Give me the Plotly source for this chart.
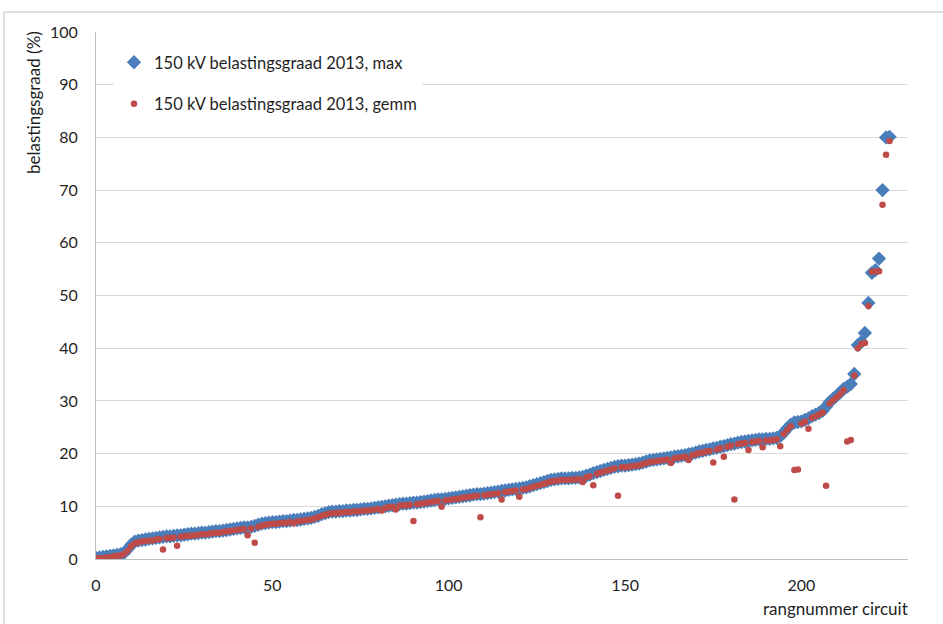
import plotly.graph_objects as go

# Rank number of each 150 kV circuit (sorted by maximum loading)
rank = list(range(0, 226))

# Maximum loading degree 2013 (%)
load_max = [
    0.2, 0.3, 0.4, 0.5, 0.6, 0.7, 0.8, 0.9, 1.2, 1.9,
    2.7, 3.3, 3.5, 3.6, 3.7, 3.8, 3.9, 4.0, 4.1, 4.2,
    4.3, 4.3, 4.4, 4.5, 4.5, 4.6, 4.7, 4.8, 4.8, 4.9,
    5.0, 5.0, 5.1, 5.2, 5.3, 5.3, 5.4, 5.5, 5.6, 5.7,
    5.8, 5.9, 6.0, 6.0, 6.1, 6.3, 6.5, 6.7, 6.8, 6.9,
    7.0, 7.0, 7.1, 7.2, 7.2, 7.3, 7.4, 7.4, 7.5, 7.6,
    7.7, 7.8, 8.0, 8.2, 8.5, 8.7, 8.9, 9.0, 9.0, 9.1,
    9.1, 9.2, 9.2, 9.3, 9.3, 9.4, 9.5, 9.5, 9.6, 9.7,
    9.8, 9.9, 10.0, 10.1, 10.2, 10.3, 10.4, 10.5, 10.5, 10.6,
    10.7, 10.7, 10.8, 10.9, 11.0, 11.1, 11.2, 11.3, 11.3, 11.4,
    11.5, 11.6, 11.7, 11.8, 11.9, 12.0, 12.1, 12.2, 12.3, 12.3,
    12.4, 12.5, 12.6, 12.7, 12.8, 12.9, 13.0, 13.1, 13.2, 13.3,
    13.4, 13.5, 13.6, 13.8, 14.0, 14.2, 14.4, 14.6, 14.8, 15.0,
    15.1, 15.2, 15.3, 15.3, 15.3, 15.4, 15.4, 15.5, 15.6, 15.8,
    16.0, 16.3, 16.5, 16.7, 16.9, 17.1, 17.3, 17.5, 17.6, 17.7,
    17.7, 17.8, 17.9, 18.0, 18.1, 18.3, 18.5, 18.7, 18.8, 18.9,
    19.0, 19.1, 19.2, 19.3, 19.4, 19.5, 19.6, 19.7, 19.9, 20.0,
    20.2, 20.4, 20.5, 20.7, 20.8, 21.0, 21.1, 21.3, 21.4, 21.6,
    21.8, 21.9, 22.1, 22.2, 22.3, 22.4, 22.5, 22.6, 22.7, 22.7,
    22.8, 22.8, 22.9, 23.0, 23.3, 24.0, 24.8, 25.5, 25.9, 26.0,
    26.1, 26.4, 26.7, 27.1, 27.4, 27.7, 28.1, 28.9, 29.8, 30.4,
    31.0, 31.6, 32.3, 32.7, 33.2, 35.1, 40.6, 41.2, 42.9, 48.6,
    54.3, 54.8, 57.0, 70.0, 80.0, 80.1,
]

# Average loading degree 2013 (%)
load_avg = [
    0.1, 0.2, 0.2, 0.3, 0.4, 0.5, 0.6, 0.7, 1.0, 1.6,
    2.4, 3.0, 3.2, 3.3, 3.4, 3.5, 3.5, 3.7, 3.8, 1.8,
    4.0, 4.0, 4.1, 2.5, 4.2, 4.3, 4.4, 4.4, 4.5, 4.6,
    4.7, 4.7, 4.8, 4.9, 5.0, 5.0, 5.1, 5.2, 5.3, 5.4,
    5.5, 5.6, 5.7, 4.5, 5.8, 3.1, 6.1, 6.3, 6.5, 6.6,
    6.7, 6.7, 6.8, 6.9, 6.9, 7.0, 6.8, 7.1, 7.2, 7.3,
    7.4, 7.5, 7.7, 7.9, 8.2, 8.4, 8.6, 8.7, 8.7, 8.8,
    8.8, 8.9, 8.9, 9.0, 9.0, 9.1, 9.2, 9.2, 9.3, 9.4,
    9.5, 9.2, 9.7, 9.8, 9.9, 9.4, 10.1, 10.2, 10.2, 10.3,
    7.2, 10.4, 10.5, 10.6, 10.7, 10.8, 10.9, 11.0, 9.9, 11.1,
    11.2, 11.3, 11.4, 11.5, 11.6, 11.7, 11.8, 11.9, 12.0, 7.9,
    12.1, 12.2, 12.3, 12.4, 12.5, 11.3, 12.7, 12.8, 12.9, 13.0,
    11.8, 13.2, 13.3, 13.5, 13.7, 13.9, 14.1, 14.3, 14.5, 14.7,
    14.8, 14.9, 15.0, 15.0, 15.0, 15.1, 15.1, 15.2, 14.6, 15.5,
    15.7, 14.0, 16.2, 16.4, 16.6, 16.8, 17.0, 17.2, 12.0, 17.4,
    17.4, 17.5, 17.6, 17.7, 17.8, 18.0, 18.2, 18.4, 18.5, 18.6,
    18.7, 18.8, 18.9, 18.2, 19.1, 19.2, 19.3, 19.4, 18.8, 19.7,
    19.9, 20.1, 20.2, 20.4, 20.5, 18.3, 20.8, 21.0, 19.4, 21.3,
    21.5, 11.3, 21.8, 21.9, 22.0, 20.7, 22.2, 22.3, 22.4, 21.2,
    22.5, 22.5, 22.6, 22.7, 21.4, 23.7, 24.5, 25.2, 16.9, 17.0,
    25.7, 26.1, 24.7, 26.8, 27.1, 27.4, 27.8, 13.9, 29.5, 30.1,
    30.7, 31.3, 32.0, 22.3, 22.6, 34.8, 40.0, 40.8, 41.0, 48.0,
    54.5, 54.6, 54.6, 67.2, 76.7, 79.3,
]

y_ticks = [0, 10, 20, 30, 40, 50, 60, 70, 80, 90, 100]
x_ticks = [0, 50, 100, 150, 200]

FONT = "Lato, 'Open Sans', sans-serif"
TEXT = "#1F1F1F"
GRID = "#D9D9D9"

fig = go.Figure()
fig.add_trace(go.Scatter(
    x=rank, y=load_max, mode="markers",
    name="150 kV belastingsgraad 2013, max",
    legendgroup="max",
    marker=dict(symbol="diamond", size=11, color="#4A7EBB",
                line=dict(width=0)),
))
fig.add_trace(go.Scatter(
    x=rank, y=load_avg, mode="markers",
    name="150 kV belastingsgraad 2013, gemm",
    legendgroup="avg",
    marker=dict(symbol="circle", size=6.5, color="#BE4B48",
                line=dict(width=0)),
))

# plot area spans 96..908 px horizontally and 32..559 px vertically
L, R, T, B = 96, 35, 32, 65
W, H = 943, 624
pw, ph = W - L - R, H - T - B

def px_x(p):
    return (p - L) / pw

def px_y(p):
    return (H - B - p) / ph

fig.update_layout(
    width=W, height=H,
    margin=dict(l=L, r=R, t=T, b=B),
    paper_bgcolor="white", plot_bgcolor="white",
    font=dict(family=FONT, size=16, color=TEXT),
    showlegend=True,
    legend=dict(
        x=px_x(114), y=px_y(45), xanchor="left", yanchor="top",
        bgcolor="white", borderwidth=0,
        font=dict(family=FONT, size=16.5, color=TEXT),
        traceorder="grouped", tracegroupgap=17,
        itemsizing="trace",
    ),
    xaxis=dict(
        range=[0, (W - R - L) / 3.527],
        tickvals=x_ticks, ticktext=[str(v) for v in x_ticks],
        showgrid=False, zeroline=False,
        showline=True, linecolor="#BFBFBF", linewidth=1,
        ticks="", ticklabelstandoff=12,
        tickfont=dict(family=FONT, size=16, color=TEXT),
    ),
    yaxis=dict(
        range=[0, 100],
        tickvals=y_ticks, ticktext=[str(v) for v in y_ticks],
        showgrid=True, gridcolor=GRID, gridwidth=1,
        zeroline=False,
        showline=True, linecolor="#BFBFBF", linewidth=1,
        ticks="", ticklabelstandoff=14,
        tickfont=dict(family=FONT, size=16, color=TEXT),
    ),
    annotations=[
        dict(text="belastingsgraad (%)", textangle=-90,
             xref="paper", yref="paper",
             x=px_x(33), y=px_y(103), xanchor="center", yanchor="middle",
             showarrow=False, font=dict(family=FONT, size=17, color=TEXT)),
        dict(text="rangnummer circuit",
             xref="paper", yref="paper",
             x=px_x(910), y=px_y(608), xanchor="right", yanchor="middle",
             showarrow=False, font=dict(family=FONT, size=17, color=TEXT)),
    ],
    shapes=[
        dict(type="rect", xref="paper", yref="paper",
             x0=px_x(4), x1=px_x(990), y0=px_y(12), y1=px_y(660),
             line=dict(color="#BFBFBF", width=1), fillcolor="rgba(0,0,0,0)",
             layer="below"),
    ],
)

fig.write_html("out.html")
